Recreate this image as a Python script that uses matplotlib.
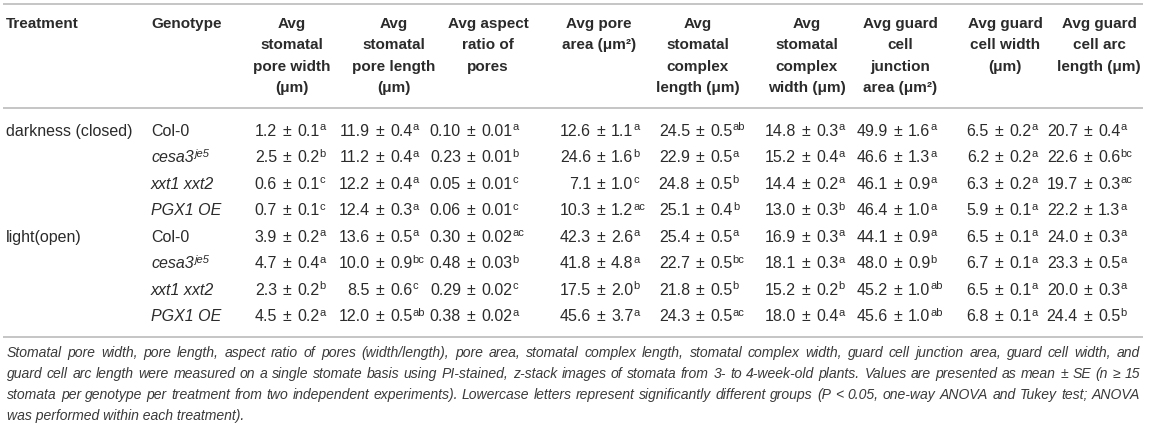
import matplotlib
matplotlib.use('Agg')
import matplotlib.pyplot as plt
from matplotlib import font_manager

W, H = 1151, 426

treatments = ['darkness (closed)', 'light(open)']
genotypes = ['Col-0', 'cesa3', 'xxt1 xxt2', 'PGX1 OE'] * 2
genotype_sup = ['', 'je5', '', ''] * 2
genotype_italic = [False, True, True, True] * 2

# rows: darkness Col-0, cesa3, xxt1 xxt2, PGX1 OE, then light in the same order
pore_width = [1.2, 2.5, 0.6, 0.7, 3.9, 4.7, 2.3, 4.5]
pore_width_se = [0.1, 0.2, 0.1, 0.1, 0.2, 0.4, 0.2, 0.2]
pore_width_grp = ['a', 'b', 'c', 'c', 'a', 'a', 'b', 'a']

pore_length = [11.9, 11.2, 12.2, 12.4, 13.6, 10.0, 8.5, 12.0]
pore_length_se = [0.4, 0.4, 0.4, 0.3, 0.5, 0.9, 0.6, 0.5]
pore_length_grp = ['a', 'a', 'a', 'a', 'a', 'bc', 'c', 'ab']

aspect_ratio = [0.10, 0.23, 0.05, 0.06, 0.30, 0.48, 0.29, 0.38]
aspect_ratio_se = [0.01, 0.01, 0.01, 0.01, 0.02, 0.03, 0.02, 0.02]
aspect_ratio_grp = ['a', 'b', 'c', 'c', 'ac', 'b', 'c', 'a']

pore_area = [12.6, 24.6, 7.1, 10.3, 42.3, 41.8, 17.5, 45.6]
pore_area_se = [1.1, 1.6, 1.0, 1.2, 2.6, 4.8, 2.0, 3.7]
pore_area_grp = ['a', 'b', 'c', 'ac', 'a', 'a', 'b', 'a']

complex_length = [24.5, 22.9, 24.8, 25.1, 25.4, 22.7, 21.8, 24.3]
complex_length_se = [0.5, 0.5, 0.5, 0.4, 0.5, 0.5, 0.5, 0.5]
complex_length_grp = ['ab', 'a', 'b', 'b', 'a', 'bc', 'b', 'ac']

complex_width = [14.8, 15.2, 14.4, 13.0, 16.9, 18.1, 15.2, 18.0]
complex_width_se = [0.3, 0.4, 0.2, 0.3, 0.3, 0.3, 0.2, 0.4]
complex_width_grp = ['a', 'a', 'a', 'b', 'a', 'a', 'b', 'a']

junction_area = [49.9, 46.6, 46.1, 46.4, 44.1, 48.0, 45.2, 45.6]
junction_area_se = [1.6, 1.3, 0.9, 1.0, 0.9, 0.9, 1.0, 1.0]
junction_area_grp = ['a', 'a', 'a', 'a', 'a', 'b', 'ab', 'ab']

gc_width = [6.5, 6.2, 6.3, 5.9, 6.5, 6.7, 6.5, 6.8]
gc_width_se = [0.2, 0.2, 0.2, 0.1, 0.1, 0.1, 0.1, 0.1]
gc_width_grp = ['a'] * 8

arc_length = [20.7, 22.6, 19.7, 22.2, 24.0, 23.3, 20.0, 24.4]
arc_length_se = [0.4, 0.6, 0.3, 1.3, 0.3, 0.5, 0.3, 0.5]
arc_length_grp = ['a', 'bc', 'ac', 'a', 'a', 'a', 'a', 'b']

headers = [
    ['Avg', 'stomatal', 'pore width', '(μm)'],
    ['Avg', 'stomatal', 'pore length', '(μm)'],
    ['Avg aspect', 'ratio of', 'pores'],
    ['Avg pore', 'area (μm²)'],
    ['Avg', 'stomatal', 'complex', 'length (μm)'],
    ['Avg', 'stomatal', 'complex', 'width (μm)'],
    ['Avg guard', 'cell', 'junction', 'area (μm²)'],
    ['Avg guard', 'cell width', '(μm)'],
    ['Avg guard', 'cell arc', 'length (μm)'],
]

caption = [
    'Stomatal pore width, pore length, aspect ratio of pores (width/length), pore area, stomatal complex length, '
    'stomatal complex width, guard cell junction area, guard cell width, and',
    'guard cell arc length were measured on a single stomate basis using PI-stained, z-stack images of stomata '
    'from 3- to 4-week-old plants. Values are presented as mean ± SE (n ≥ 15',
    'stomata per genotype per treatment from two independent experiments). Lowercase letters represent '
    'significantly different groups (P < 0.05, one-way ANOVA and Tukey test; ANOVA',
    'was performed within each treatment).',
]

columns = [
    (pore_width, pore_width_se, pore_width_grp, 1),
    (pore_length, pore_length_se, pore_length_grp, 1),
    (aspect_ratio, aspect_ratio_se, aspect_ratio_grp, 2),
    (pore_area, pore_area_se, pore_area_grp, 1),
    (complex_length, complex_length_se, complex_length_grp, 1),
    (complex_width, complex_width_se, complex_width_grp, 1),
    (junction_area, junction_area_se, junction_area_grp, 1),
    (gc_width, gc_width_se, gc_width_grp, 1),
    (arc_length, arc_length_se, arc_length_grp, 1),
]

# layout (pixels)
header_cx = [292, 394, 488, 599, 698, 807, 900, 1005, 1099]
pm_x = [287, 380, 471, 601, 700, 806, 898, 999, 1088]
PM_GAP = 10
row_y = [131 + 26.45 * i for i in range(8)]
TEXT = '#2b2b2b'
RULE = '#b5b5b5'

names = {f.name for f in font_manager.fontManager.ttflist}
SANS = 'Liberation Sans'
NARROW = 'Liberation Sans Narrow' if 'Liberation Sans Narrow' in names else SANS

body = dict(family=SANS, size=11.5, color=TEXT)
bold = dict(family=SANS, size=11, color=TEXT, weight='bold')
sup = dict(family=SANS, size=8, color=TEXT)

fig = plt.figure(figsize=(W / 100, H / 100), dpi=100)
ax = fig.add_axes([0, 0, 1, 1])
ax.set_xlim(0, W)
ax.set_ylim(H, 0)
ax.axis('off')
fig.canvas.draw()
renderer = fig.canvas.get_renderer()


def text_width(s, **kw):
    t = ax.text(0, 0, s, **kw)
    w = t.get_window_extent(renderer).width
    t.remove()
    return w


# rules
for y in (4, 108, 337):
    ax.plot([3, 1143], [y, y], color=RULE, lw=1.1, solid_capstyle='butt')

# header
ax.text(6, 28, 'Treatment', ha='left', va='baseline', **bold)
ax.text(151, 28, 'Genotype', ha='left', va='baseline', **bold)
for cx, lines in zip(header_cx, headers):
    for i, line in enumerate(lines):
        ax.text(cx, 28 + 21.3 * i, line, ha='center', va='baseline', **bold)

# treatment + genotype columns
ax.text(6, row_y[0] + 5, treatments[0], ha='left', va='baseline', **body)
ax.text(6, row_y[4] + 5, treatments[1], ha='left', va='baseline', **body)
for ri, g in enumerate(genotypes):
    yb = row_y[ri] + 5
    style = 'italic' if genotype_italic[ri] else 'normal'
    ax.text(151, yb, g, ha='left', va='baseline', style=style, **body)
    if genotype_sup[ri]:
        gw = text_width(g, style=style, **body)
        ax.text(151 + gw + 0.5, yb - 5.5, genotype_sup[ri], ha='left', va='baseline',
                style='italic', **sup)

# values: mean ± se with group letters
for ci, (vals, errs, grps, nd) in enumerate(columns):
    px = pm_x[ci]
    for ri in range(len(vals)):
        yb = row_y[ri] + 5
        ax.text(px - PM_GAP, yb, f'{vals[ri]:.{nd}f}', ha='right', va='baseline', **body)
        ax.text(px, yb, '±', ha='center', va='baseline', **body)
        se = f'{errs[ri]:.{nd}f}'
        ax.text(px + PM_GAP, yb, se, ha='left', va='baseline', **body)
        sw = text_width(se, **body)
        ax.text(px + PM_GAP + sw + 0.5, yb - 5.5, grps[ri], ha='left', va='baseline', **sup)

# caption, justified like the source
cap = dict(family=NARROW, style='italic', color='#3a3a3a')
x0, x1 = 7, 1140
base = 10
longest = max(text_width(l, size=base, **cap) for l in caption[:3])
cap['size'] = base * (x1 - x0) / longest
cap_y = [357, 378, 399, 420]
for li, line in enumerate(caption):
    if li == len(caption) - 1:
        ax.text(x0, cap_y[li], line, ha='left', va='baseline', **cap)
        continue
    words = line.split(' ')
    widths = [text_width(w, **cap) for w in words]
    gap = (x1 - x0 - sum(widths)) / (len(words) - 1)
    x = x0
    for w, wd in zip(words, widths):
        ax.text(x, cap_y[li], w, ha='left', va='baseline', **cap)
        x += wd + gap

fig.savefig('out.png', dpi=100)
